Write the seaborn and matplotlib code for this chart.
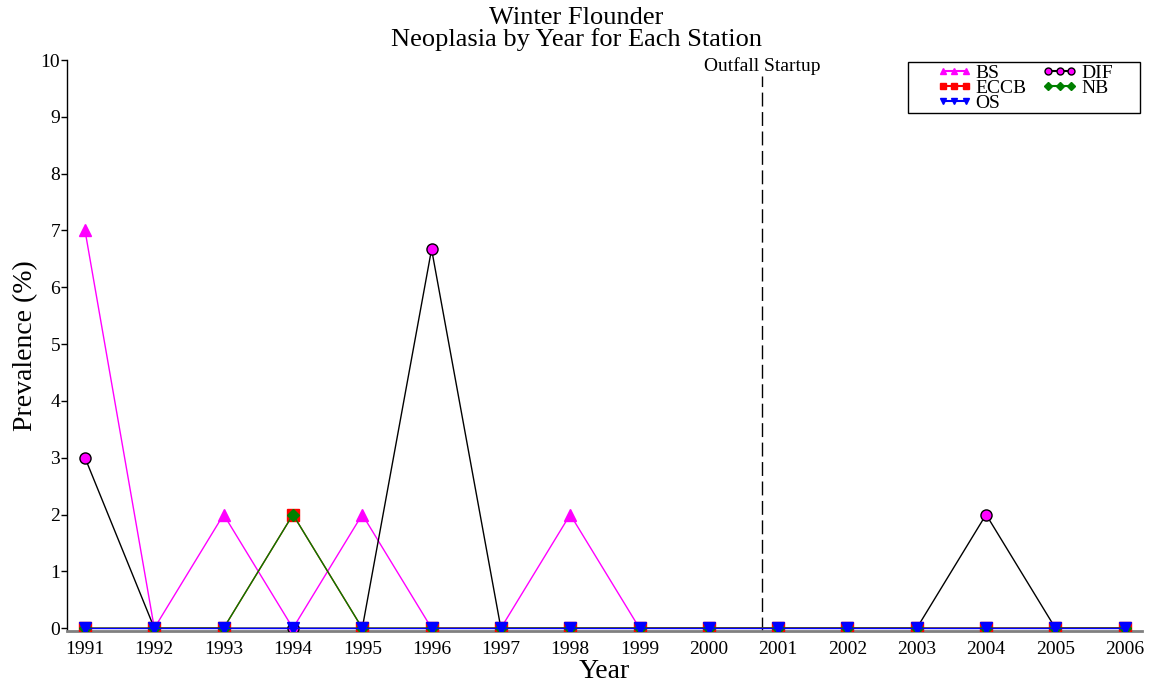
import matplotlib
matplotlib.use("Agg")
import matplotlib.pyplot as plt
import seaborn as sns
import pandas as pd
from matplotlib.lines import Line2D
from matplotlib.patches import Rectangle

years = list(range(1991, 2007))
bs   = [7, 0, 2, 0, 2, 0, 0, 2, 0, 0, 0, 0, 0, 0, 0, 0]
dif  = [3, 0, 0, 0, 0, 6.67, 0, 0, 0, 0, 0, 0, 0, 2, 0, 0]
eccb = [0, 0, 0, 2, 0, 0, 0, 0, 0, 0, 0, 0, 0, 0, 0, 0]
nb   = [0, 0, 0, 2, 0, 0, 0, 0, 0, 0, 0, 0, 0, 0, 0, 0]
os_  = [0] * 16
stations = ["BS", "DIF", "ECCB", "NB", "OS"]
values = {"BS": bs, "DIF": dif, "ECCB": eccb, "NB": nb, "OS": os_}
startup_year = 2000.77

sns.set_theme(style="white")
plt.rcParams['font.family'] = ['Liberation Serif', 'DejaVu Serif']
plt.rcParams['text.color'] = 'black'
plt.rcParams['axes.labelcolor'] = 'black'
plt.rcParams['xtick.color'] = 'black'
plt.rcParams['ytick.color'] = 'black'

styles = {
    "BS":   dict(color="magenta", marker="^", mfc="magenta", mec="magenta"),
    "DIF":  dict(color="black", marker="o", mfc="magenta", mec="black"),
    "ECCB": dict(color="red", marker="s", mfc="red", mec="red"),
    "NB":   dict(color="green", marker="D", mfc="green", mec="green"),
    "OS":   dict(color="blue", marker="v", mfc="blue", mec="blue"),
}
legend_colors = {"BS": "magenta", "DIF": "black", "ECCB": "red", "NB": "green", "OS": "blue"}

df = pd.DataFrame([(s, y, v) for s in stations for y, v in zip(years, values[s])],
                  columns=["Station", "Year", "Prevalence"])

fig = plt.figure(figsize=(11.53, 6.85), dpi=100)
ax = fig.add_axes([0.0581, 0.0788, 0.9324, 0.8336])

for s in stations:
    st = styles[s]
    sub = df[df.Station == s]
    sns.lineplot(data=sub, x="Year", y="Prevalence", ax=ax, color=st["color"],
                 marker=st["marker"], markerfacecolor=st["mfc"], markeredgecolor=st["mec"],
                 markersize=8 if s != "NB" else 6, markeredgewidth=1, linewidth=1,
                 legend=False, zorder=3)

ax.plot([startup_year, startup_year], [-0.05, 9.72], color="black",
        linestyle=(0, (10, 4)), linewidth=1)
ax.text(startup_year, 9.74, "Outfall Startup", ha="center", va="bottom", fontsize=14)

ax.set_xlim(1990.74, 2006.25)
ax.set_ylim(-0.05, 10)
ax.set_xticks(years)
ax.set_xticklabels([str(y) for y in years])
ax.set_yticks(range(0, 11))
ax.tick_params(axis="x", labelsize=14, length=0, pad=7)
ax.tick_params(axis="y", labelsize=14, left=True, length=4, width=1, pad=1, direction="out")

for side in ["top", "right"]:
    ax.spines[side].set_visible(False)
ax.spines["left"].set_color("black")
ax.spines["left"].set_linewidth(1)
ax.spines["bottom"].set_color("gray")
ax.spines["bottom"].set_linewidth(2)

ax.set_xlabel("Year", fontsize=20, labelpad=1)
ax.set_ylabel("Prevalence (%)", fontsize=20, labelpad=2)

fig.text(0.5, 0.973, "Winter Flounder", ha="center", va="center", fontsize=19)
fig.text(0.5, 0.943, "Neoplasia by Year for Each Station", ha="center", va="center", fontsize=19)

# legend box
ax.add_patch(Rectangle((0.782, 0.907), 0.216, 0.0895, transform=ax.transAxes,
                       fill=True, facecolor="white", edgecolor="black", linewidth=1,
                       clip_on=False, zorder=5))
order = ["BS", "ECCB", "OS", "DIF", "NB"]
handles = []
for s in order:
    st = styles[s]
    handles.append(Line2D([0], [0], color=legend_colors[s], marker=st["marker"],
                          markerfacecolor=st["mfc"], markeredgecolor=st["mec"],
                          markersize=5 if s != "NB" else 4, markeredgewidth=1,
                          linewidth=1.5))
leg = ax.legend(handles, order, ncol=2, loc="upper left", bbox_to_anchor=(0.809, 0.993),
                fontsize=14, numpoints=3, handlelength=1.8, labelspacing=-0.12,
                columnspacing=0.8, handletextpad=0.2, borderpad=0, markerfirst=True,
                frameon=False, borderaxespad=0)
leg.set_zorder(6)

fig.savefig("out.png", dpi=100)
